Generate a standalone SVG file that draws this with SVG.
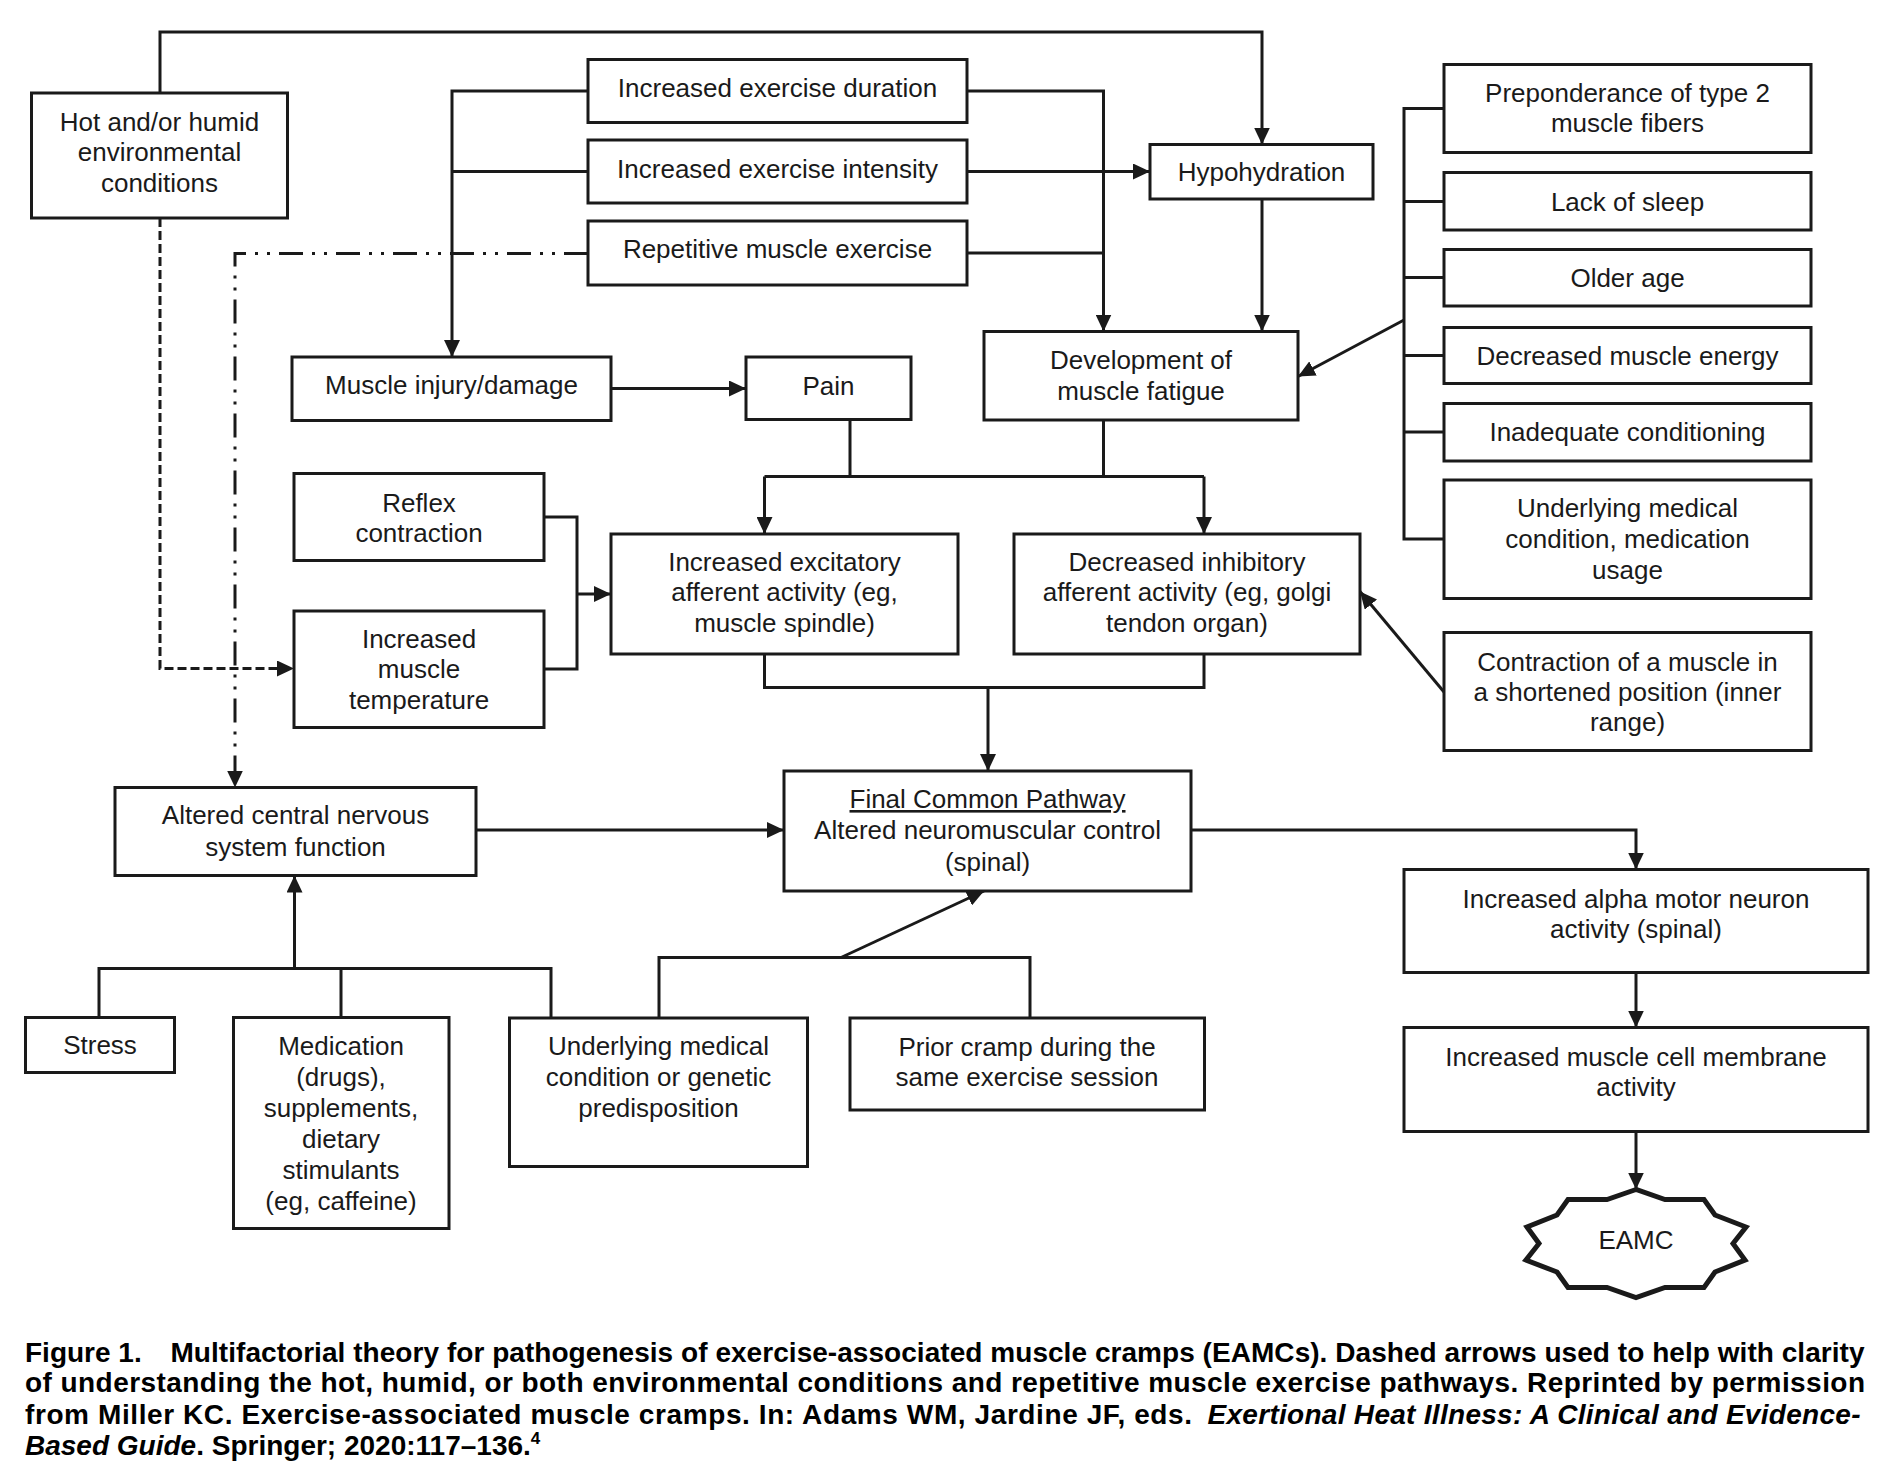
<svg xmlns="http://www.w3.org/2000/svg" width="1900" height="1472" viewBox="0 0 1900 1472">
<style>
.box{fill:#fff;stroke:#1a1a1a;stroke-width:3}
.t{font-family:"Liberation Sans",Arial,sans-serif;font-size:26px;fill:#1a1a1a;text-anchor:middle}
.c{fill:none;stroke:#1a1a1a;stroke-width:3}
.arr{marker-end:url(#ah)}
.dash{stroke-dasharray:9 4}
.dashdot{stroke-dasharray:24 9 3 9 3 9}
.cap{font-family:"Liberation Sans",Arial,sans-serif;font-size:28px;font-weight:bold;fill:#000}
</style>
<defs>
<marker id="ah" markerUnits="userSpaceOnUse" markerWidth="18" markerHeight="16" refX="17" refY="8" orient="auto">
<path d="M0,0 L17,8 L0,16 z" fill="#1a1a1a"/>
</marker>
</defs>
<rect width="1900" height="1472" fill="#fff"/>

<g id="connectors">
<path class="c arr" d="M160,93 V32 H1262 V144.5"/>
<path class="c arr" d="M588,91 H452 V357"/>
<path class="c" d="M588,171.5 H452"/>
<path class="c arr" d="M967,91 H1103.5 V331.5"/>
<path class="c" d="M967,253 H1103.5"/>
<path class="c arr" d="M967,171.5 H1150"/>
<path class="c arr" d="M1262,199 V331.5"/>
<path class="c" d="M1444,108.5 H1404 V539 H1444 M1404,201.5 H1444 M1404,277.5 H1444 M1404,355.5 H1444 M1404,432 H1444"/>
<path class="c arr" d="M1404,320 L1298,376.5"/>
<path class="c arr" d="M1444,692 L1360,591.5"/>
<path class="c arr" d="M611,388.5 H746"/>
<path class="c" d="M850,419.5 V476.5 M1103.5,420 V476.5 M764.5,476.5 H1204"/>
<path class="c arr" d="M764.5,476.5 V534"/>
<path class="c arr" d="M1204,476.5 V534"/>
<path class="c" d="M544,517 H577 V669 H544"/>
<path class="c arr" d="M577,594 H611"/>
<path class="c" d="M764.5,654 V687.5 H1204 V654"/>
<path class="c arr" d="M988,687.5 V771"/>
<path class="c arr" d="M476,830 H784"/>
<path class="c" d="M99,1017.5 V968.5 H551 V1018 M341,968.5 V1017.5"/>
<path class="c arr" d="M294.5,968.5 V875.5"/>
<path class="c" d="M659,1018 V957.5 H1030 V1018"/>
<path class="c arr" d="M841,957.5 L984,891"/>
<path class="c arr" d="M1191,830 H1636 V869.5"/>
<path class="c arr" d="M1636,972.5 V1027.5"/>
<path class="c arr" d="M1636,1131.5 V1189.5"/>
<path class="c dash arr" d="M160,218 V668.5 H294"/>
<path class="c dashdot arr" d="M588,253.5 H235 V787.5"/>
</g>

<g id="hot"><rect class="box" x="31.5" y="93" width="256" height="125"/>
<text class="t" x="159.5" y="130.5">Hot and/or humid</text><text class="t" x="159.5" y="161">environmental</text><text class="t" x="159.5" y="191.5">conditions</text></g>
<g id="duration"><rect class="box" x="588" y="59.5" width="379" height="63"/><text class="t" x="777.5" y="97">Increased exercise duration</text></g>
<g id="intensity"><rect class="box" x="588" y="140" width="379" height="63"/><text class="t" x="777.5" y="178">Increased exercise intensity</text></g>
<g id="repetitive"><rect class="box" x="588" y="221" width="379" height="64"/><text class="t" x="777.5" y="258">Repetitive muscle exercise</text></g>
<g id="hypohydration"><rect class="box" x="1150" y="144.5" width="223" height="54.5"/><text class="t" x="1261.5" y="181">Hypohydration</text></g>
<g id="fatigue"><rect class="box" x="984" y="331.5" width="314" height="88.5"/><text class="t" x="1141" y="369">Development of</text><text class="t" x="1141" y="399.5">muscle fatigue</text></g>
<g id="pain"><rect class="box" x="746" y="357" width="165" height="62.5"/><text class="t" x="828.5" y="394.5">Pain</text></g>
<g id="injury"><rect class="box" x="292" y="357" width="319" height="63.5"/><text class="t" x="451.5" y="394">Muscle injury/damage</text></g>

<g id="type2"><rect class="box" x="1444" y="64.5" width="367" height="88"/><text class="t" x="1627.5" y="102">Preponderance of type 2</text><text class="t" x="1627.5" y="132">muscle fibers</text></g>
<g id="sleep"><rect class="box" x="1444" y="172.5" width="367" height="57.5"/><text class="t" x="1627.5" y="210.5">Lack of sleep</text></g>
<g id="age"><rect class="box" x="1444" y="249.5" width="367" height="56.5"/><text class="t" x="1627.5" y="287">Older age</text></g>
<g id="energy"><rect class="box" x="1444" y="327.5" width="367" height="56"/><text class="t" x="1627.5" y="365">Decreased muscle energy</text></g>
<g id="conditioning"><rect class="box" x="1444" y="403.5" width="367" height="57.5"/><text class="t" x="1627.5" y="440.5">Inadequate conditioning</text></g>
<g id="medcond"><rect class="box" x="1444" y="480" width="367" height="118.5"/><text class="t" x="1627.5" y="517">Underlying medical</text><text class="t" x="1627.5" y="548">condition, medication</text><text class="t" x="1627.5" y="579">usage</text></g>
<g id="contraction"><rect class="box" x="1444" y="632.5" width="367" height="118"/><text class="t" x="1627.5" y="670.5">Contraction of a muscle in</text><text class="t" x="1627.5" y="700.5">a shortened position (inner</text><text class="t" x="1627.5" y="730.5">range)</text></g>

<g id="reflex"><rect class="box" x="294" y="473.5" width="250" height="87"/><text class="t" x="419" y="512">Reflex</text><text class="t" x="419" y="542">contraction</text></g>
<g id="temperature"><rect class="box" x="294" y="611" width="250" height="116.5"/><text class="t" x="419" y="648">Increased</text><text class="t" x="419" y="678">muscle</text><text class="t" x="419" y="709">temperature</text></g>
<g id="excitatory"><rect class="box" x="611" y="534" width="347" height="120"/><text class="t" x="784.5" y="570.5">Increased excitatory</text><text class="t" x="784.5" y="601">afferent activity (eg,</text><text class="t" x="784.5" y="632">muscle spindle)</text></g>
<g id="inhibitory"><rect class="box" x="1014" y="534" width="346" height="120"/><text class="t" x="1187" y="570.5">Decreased inhibitory</text><text class="t" x="1187" y="601">afferent activity (eg, golgi</text><text class="t" x="1187" y="632">tendon organ)</text></g>
<g id="fcp"><rect class="box" x="784" y="771" width="407" height="120"/><text class="t" x="987.5" y="808" text-decoration="underline">Final Common Pathway</text><text class="t" x="987.5" y="839">Altered neuromuscular control</text><text class="t" x="987.5" y="870.5">(spinal)</text></g>
<g id="cns"><rect class="box" x="115" y="787.5" width="361" height="88"/><text class="t" x="295.5" y="824">Altered central nervous</text><text class="t" x="295.5" y="855.5">system function</text></g>
<g id="stress"><rect class="box" x="25.5" y="1017.5" width="149" height="55"/><text class="t" x="100" y="1054">Stress</text></g>
<g id="medication"><rect class="box" x="233.5" y="1017.5" width="215.5" height="211"/><text class="t" x="341" y="1055">Medication</text><text class="t" x="341" y="1086">(drugs),</text><text class="t" x="341" y="1117">supplements,</text><text class="t" x="341" y="1148">dietary</text><text class="t" x="341" y="1178.5">stimulants</text><text class="t" x="341" y="1209.5">(eg, caffeine)</text></g>
<g id="genetic"><rect class="box" x="509.5" y="1018" width="298" height="148.5"/><text class="t" x="658.5" y="1055">Underlying medical</text><text class="t" x="658.5" y="1086">condition or genetic</text><text class="t" x="658.5" y="1117">predisposition</text></g>
<g id="prior"><rect class="box" x="850" y="1018" width="354.5" height="92"/><text class="t" x="1027" y="1055.5">Prior cramp during the</text><text class="t" x="1027" y="1086">same exercise session</text></g>
<g id="alpha"><rect class="box" x="1404" y="869.5" width="464" height="103"/><text class="t" x="1636" y="907.5">Increased alpha motor neuron</text><text class="t" x="1636" y="937.5">activity (spinal)</text></g>
<g id="membrane"><rect class="box" x="1404" y="1027.5" width="464" height="104"/><text class="t" x="1636" y="1065.5">Increased muscle cell membrane</text><text class="t" x="1636" y="1095.5">activity</text></g>
<g id="eamc"><polygon fill="#fff" stroke="#1a1a1a" stroke-width="5" stroke-linejoin="miter" points="1636,1189.5 1607,1199.5 1568,1199.5 1557,1215 1527,1227 1539,1243.5 1526,1260 1557,1272 1568,1287.5 1607,1287.5 1636,1297.5 1665,1287.5 1704,1287.5 1715,1272 1745,1260 1733,1243.5 1746,1227 1715,1215 1704,1199.5 1665,1199.5"/><text class="t" x="1636" y="1249">EAMC</text></g>

<g id="caption">
<text class="cap" x="25" y="1361.5">Figure 1.</text>
<text class="cap" x="170.5" y="1361.5" textLength="1694">Multifactorial theory for pathogenesis of exercise-associated muscle cramps (EAMCs). Dashed arrows used to help with clarity</text>
<text class="cap" x="25" y="1392" textLength="1840">of understanding the hot, humid, or both environmental conditions and repetitive muscle exercise pathways. Reprinted by permission</text>
<text class="cap" x="25" y="1424" textLength="1167">from Miller KC. Exercise-associated muscle cramps. In: Adams WM, Jardine JF, eds.</text>
<text class="cap" x="1207.5" y="1424" textLength="653" font-style="italic">Exertional Heat Illness: A Clinical and Evidence-</text>
<text class="cap" x="25" y="1455"><tspan font-style="italic">Based Guide</tspan>. Springer; 2020:117–136.<tspan font-size="17" dy="-11">4</tspan></text>
</g>
</svg>
